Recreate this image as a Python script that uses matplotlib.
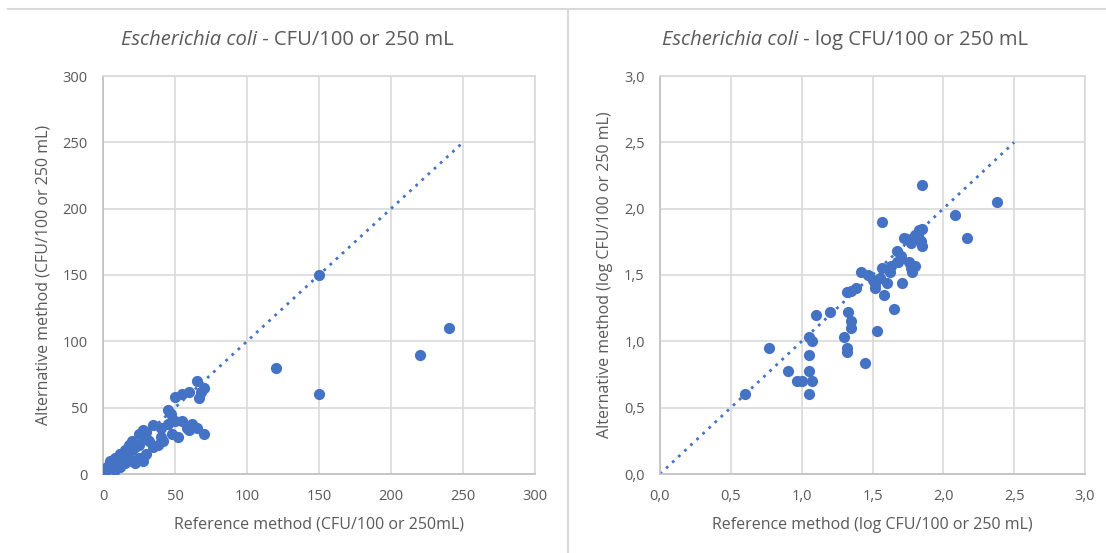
import numpy as np
import matplotlib
matplotlib.use("Agg")
import matplotlib.pyplot as plt
from matplotlib.lines import Line2D

plt.rcParams['font.family'] = ['Open Sans', 'DejaVu Sans']

# CFU counts, left chart
ref_cfu = [2, 3, 5, 8, 5, 10, 12, 15, 10, 15, 18, 20, 22, 12, 8, 20, 25, 28, 30, 25,
           22, 28, 30, 35, 38, 32, 40, 42, 35, 45, 47, 50, 45, 48, 52, 50, 55, 40, 58, 60,
           62, 60, 65, 65, 67, 68, 70, 70, 55, 20, 18, 25, 30, 12, 15, 120, 150, 150, 220, 240]
alt_cfu = [2, 5, 8, 12, 10, 10, 15, 18, 5, 8, 22, 25, 20, 5, 3, 10, 30, 33, 32, 12,
           8, 10, 27, 20, 22, 25, 28, 25, 37, 48, 45, 58, 38, 30, 28, 40, 60, 35, 35, 62,
           38, 33, 70, 35, 57, 62, 65, 30, 40, 18, 12, 22, 15, 15, 15, 80, 150, 60, 90, 110]

# log counts, right chart
ref_log = [0.60, 0.77, 0.90, 0.97, 1.00, 1.05, 1.07, 1.05, 1.05, 1.05, 1.07, 1.10, 1.20,
           1.30, 1.32, 1.32, 1.33, 1.35, 1.35, 1.32, 1.35, 1.38, 1.42, 1.45, 1.47, 1.52,
           1.52, 1.53, 1.55, 1.57, 1.57, 1.58, 1.60, 1.62, 1.65, 1.67, 1.68, 1.70, 1.71,
           1.74, 1.76, 1.77, 1.77, 1.78, 1.80, 1.82, 1.83, 1.85, 1.85, 1.85, 1.80, 2.08,
           2.17, 2.38, 1.50, 1.63, 1.72, 1.67, 1.84]
alt_log = [0.60, 0.95, 0.78, 0.70, 0.70, 0.60, 0.70, 0.78, 0.90, 1.03, 1.00, 1.20, 1.22,
           1.03, 0.92, 0.95, 1.22, 1.15, 1.10, 1.37, 1.38, 1.40, 1.52, 0.84, 1.50, 1.40,
           1.43, 1.08, 1.48, 1.55, 1.90, 1.35, 1.44, 1.52, 1.24, 1.68, 1.60, 1.64, 1.44,
           1.77, 1.60, 1.55, 1.74, 1.52, 1.80, 1.80, 1.84, 1.72, 1.85, 2.18, 1.57, 1.95,
           1.78, 2.05, 1.46, 1.57, 1.78, 1.60, 1.76]

cfu_ticks = [0, 50, 100, 150, 200, 250, 300]
log_ticks = [0.0, 0.5, 1.0, 1.5, 2.0, 2.5, 3.0]
blue = '#4472C4'
grey_txt = '#595959'
grid_c = '#D9D9D9'

fig = plt.figure(figsize=(11.06, 5.53), dpi=100)
fig.patch.set_facecolor('white')

ax1 = fig.add_axes([103/1106, 1-474/553, 432/1106, 398/553])
ax2 = fig.add_axes([660/1106, 1-474/553, 425/1106, 398/553])


def style(ax, ticks, labels, xlabel, ylabel):
    ax.set_xlim(ticks[0], ticks[-1])
    ax.set_ylim(ticks[0], ticks[-1])
    ax.set_xticks(ticks)
    ax.set_yticks(ticks)
    ax.set_xticklabels(labels)
    ax.set_yticklabels(labels)
    ax.grid(True, color=grid_c, linewidth=1.2)
    ax.set_axisbelow(True)
    for s in ax.spines.values():
        s.set_color(grid_c)
        s.set_linewidth(1.2)
    ax.spines['bottom'].set_color('#BFBFBF')
    ax.spines['left'].set_color('#BFBFBF')
    ax.tick_params(length=0, labelsize=10.5, labelcolor=grey_txt, pad=11)
    ax.set_xlabel(xlabel, fontsize=11.5, color=grey_txt, labelpad=9)
    ax.set_ylabel(ylabel, fontsize=11.5, color=grey_txt, labelpad=8)


ax1.scatter(ref_cfu, alt_cfu, s=65, color=blue, zorder=3, linewidths=0)
ax1.plot([cfu_ticks[0], cfu_ticks[-2]], [cfu_ticks[0], cfu_ticks[-2]], color=blue,
         linestyle=(0, (1, 2)), linewidth=2, zorder=2)
style(ax1, cfu_ticks, [str(t) for t in cfu_ticks],
      'Reference method (CFU/100 or 250mL)', 'Alternative method (CFU/100 or 250 mL)')

ax2.scatter(ref_log, alt_log, s=65, color=blue, zorder=3, linewidths=0)
ax2.plot([log_ticks[0], log_ticks[-2]], [log_ticks[0], log_ticks[-2]], color=blue,
         linestyle=(0, (1, 2)), linewidth=2, zorder=2)
style(ax2, log_ticks, [f'{t:.1f}'.replace('.', ',') for t in log_ticks],
      'Reference method (log CFU/100 or 250 mL)', 'Alternative method (log CFU/100 or 250 mL)')

# frame lines like the original layout
fig.add_artist(Line2D([8/1106, 1], [1-9/553, 1-9/553], color='#D9D9D9', linewidth=1.5))
fig.add_artist(Line2D([568/1106, 568/1106], [0, 1-9/553], color='#D9D9D9', linewidth=1.5))

# titles with italic species name, centred over each chart area
fig.canvas.draw()
renderer = fig.canvas.get_renderer()


def mixed_title(xc, yc, italic, rest):
    t1 = fig.text(0, yc, italic, fontsize=14.5, style='italic', color=grey_txt, va='center')
    t2 = fig.text(0, yc, rest, fontsize=14.5, color=grey_txt, va='center')
    w1 = t1.get_window_extent(renderer).width / fig.bbox.width
    w2 = t2.get_window_extent(renderer).width / fig.bbox.width
    x0 = xc - (w1 + w2) / 2
    t1.set_x(x0)
    t2.set_x(x0 + w1)


mixed_title(287/1106, 1-40/553, 'Escherichia coli', ' - CFU/100 or 250 mL')
mixed_title(845/1106, 1-40/553, 'Escherichia coli', ' - log CFU/100 or 250 mL')

fig.savefig('out.png', dpi=100)
